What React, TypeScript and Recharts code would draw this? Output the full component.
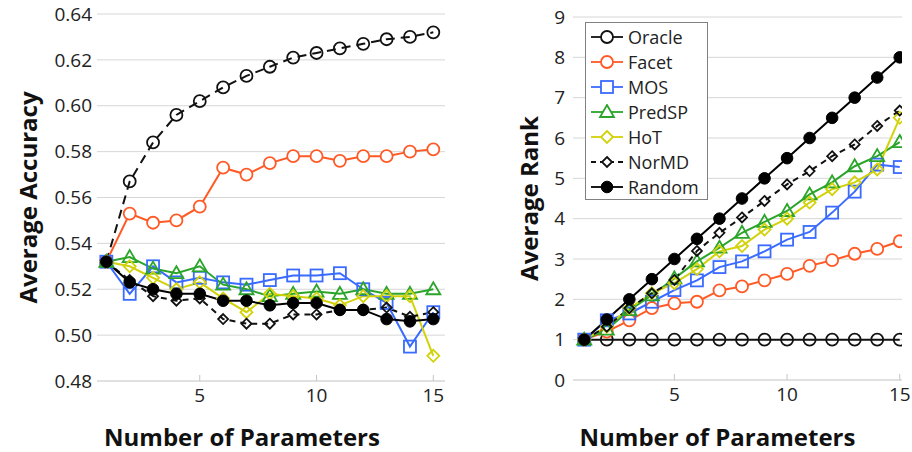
import React from 'react';
import { LineChart, Line, XAxis, YAxis, CartesianGrid, Legend, Label } from 'recharts';

// x values: number of parameters
const params = [1, 2, 3, 4, 5, 6, 7, 8, 9, 10, 11, 12, 13, 14, 15];

// left panel: average accuracy
const accOracle = [0.532, 0.567, 0.584, 0.596, 0.602, 0.608, 0.613, 0.617, 0.621, 0.623, 0.625, 0.627, 0.629, 0.630, 0.632];
const accFacet = [0.532, 0.553, 0.549, 0.550, 0.556, 0.573, 0.570, 0.575, 0.578, 0.578, 0.576, 0.578, 0.578, 0.580, 0.581];
const accMos = [0.532, 0.518, 0.530, 0.523, 0.525, 0.523, 0.522, 0.524, 0.526, 0.526, 0.527, 0.520, 0.514, 0.495, 0.510];
const accPredSP = [0.532, 0.534, 0.529, 0.527, 0.530, 0.522, 0.520, 0.517, 0.518, 0.519, 0.518, 0.520, 0.518, 0.518, 0.520];
const accHot = [0.532, 0.530, 0.525, 0.520, 0.523, 0.516, 0.510, 0.518, 0.517, 0.516, 0.513, 0.517, 0.517, 0.517, 0.491];
const accNormd = [0.532, 0.524, 0.517, 0.515, 0.516, 0.507, 0.505, 0.505, 0.509, 0.509, 0.511, 0.511, 0.512, 0.508, 0.510];
const accRandom = [0.532, 0.523, 0.520, 0.518, 0.518, 0.515, 0.515, 0.513, 0.514, 0.514, 0.511, 0.511, 0.507, 0.506, 0.507];

// right panel: average rank
const rankOracle = [1, 1, 1, 1, 1, 1, 1, 1, 1, 1, 1, 1, 1, 1, 1];
const rankFacet = [1, 1.2, 1.48, 1.78, 1.9, 1.94, 2.22, 2.32, 2.47, 2.63, 2.83, 2.97, 3.13, 3.25, 3.44];
const rankMos = [1, 1.48, 1.65, 1.94, 2.23, 2.47, 2.8, 2.94, 3.19, 3.48, 3.67, 4.15, 4.67, 5.34, 5.28];
const rankPredSP = [1, 1.25, 1.73, 2.1, 2.52, 2.94, 3.28, 3.65, 3.92, 4.19, 4.6, 4.9, 5.3, 5.55, 5.9];
const rankHot = [1, 1.32, 1.78, 2.15, 2.4, 2.75, 3.19, 3.32, 3.73, 4.0, 4.4, 4.73, 4.9, 5.22, 6.5];
const rankNormd = [1, 1.32, 1.78, 2.15, 2.48, 3.2, 3.65, 4.03, 4.44, 4.85, 5.18, 5.55, 5.84, 6.3, 6.68];
const rankRandom = [1, 1.5, 2, 2.5, 3, 3.5, 4, 4.5, 5, 5.5, 6, 6.5, 7, 7.5, 8];

const accTicks = [0.48, 0.5, 0.52, 0.54, 0.56, 0.58, 0.6, 0.62, 0.64];
const rankTicks = [0, 1, 2, 3, 4, 5, 6, 7, 8, 9];
const xTicks = [5, 10, 15];

const accRows = params.map((p, i) => ({
  p,
  oracle: accOracle[i],
  facet: accFacet[i],
  mos: accMos[i],
  predsp: accPredSP[i],
  hot: accHot[i],
  normd: accNormd[i],
  random: accRandom[i],
}));

const rankRows = params.map((p, i) => ({
  p,
  oracle: rankOracle[i],
  facet: rankFacet[i],
  mos: rankMos[i],
  predsp: rankPredSP[i],
  hot: rankHot[i],
  normd: rankNormd[i],
  random: rankRandom[i],
}));

const FONT = '"Open Sans", "Noto Sans", sans-serif';
const GRID = '#d6d6d6';
const TEXT = '#222';

type Shape = 'circle' | 'square' | 'triangle' | 'diamond' | 'dot';

const SERIES: { key: string; name: string; color: string; shape: Shape; fill: string }[] = [
  { key: 'oracle', name: 'Oracle', color: '#111', shape: 'circle', fill: 'none' },
  { key: 'facet', name: 'Facet', color: '#ff5a26', shape: 'circle', fill: '#fff' },
  { key: 'mos', name: 'MOS', color: '#3a6bff', shape: 'square', fill: 'none' },
  { key: 'predsp', name: 'PredSP', color: '#2aa52a', shape: 'triangle', fill: 'none' },
  { key: 'hot', name: 'HoT', color: '#d2d20a', shape: 'diamond', fill: 'none' },
  { key: 'normd', name: 'NorMD', color: '#111', shape: 'diamond', fill: 'none' },
  { key: 'random', name: 'Random', color: '#000', shape: 'dot', fill: '#000' },
];

function marker(shape: Shape, cx: number, cy: number, color: string, fill: string, key?: string) {
  const common = { stroke: color, strokeWidth: 1.8, fill };
  if (shape === 'circle') return <circle key={key} cx={cx} cy={cy} r={6} {...common} />;
  if (shape === 'dot') return <circle key={key} cx={cx} cy={cy} r={5.8} fill={color} stroke={color} />;
  if (shape === 'square') return <rect key={key} x={cx - 6} y={cy - 6} width={12} height={12} {...common} />;
  if (shape === 'triangle')
    return <polygon key={key} points={`${cx},${cy - 7} ${cx + 7},${cy + 5} ${cx - 7},${cy + 5}`} {...common} />;
  const d = color === '#111' ? 5 : 6;
  return <polygon key={key} points={`${cx},${cy - d} ${cx + d},${cy} ${cx},${cy + d} ${cx - d},${cy}`} {...common} />;
}

const makeDot = (s: (typeof SERIES)[number]) => (props: any) =>
  marker(s.shape, props.cx, props.cy, s.color, s.fill, `${s.key}-${props.index}`);

const renderLines = (dashedOracle: boolean) =>
  SERIES.map((s) => {
    let dash: string | undefined;
    if (s.key === 'normd') dash = '6 5';
    if (s.key === 'oracle' && dashedOracle) dash = '9 6';
    return (
      <Line
        key={s.key}
        type="linear"
        dataKey={s.key}
        name={s.name}
        stroke={s.color}
        strokeWidth={2}
        strokeDasharray={dash}
        dot={makeDot(s)}
        activeDot={false}
        isAnimationActive={false}
      />
    );
  });

const tickStyle = { fontSize: 19, fill: TEXT, fontFamily: FONT };

const xTitle = (shift: number) => (props: any) => {
  const vb = props.viewBox;
  return (
    <text
      x={vb.x + vb.width / 2 + shift}
      y={vb.y + vb.height - 6}
      textAnchor="middle"
      fontSize={24}
      fontWeight={700}
      fontFamily={FONT}
      fill="#111"
    >
      Number of Parameters
    </text>
  );
};

const yTitle = (text: string, x: number) => (props: any) => {
  const vb = props.viewBox;
  const cy = vb.y + vb.height / 2;
  return (
    <text
      x={x}
      y={cy}
      transform={`rotate(-90 ${x} ${cy})`}
      textAnchor="middle"
      dominantBaseline="central"
      fontSize={24}
      fontWeight={700}
      fontFamily={FONT}
      fill="#111"
    >
      {text}
    </text>
  );
};

function LegendBox() {
  return (
    <div
      style={{
        border: '1px solid #808080',
        background: '#fff',
        padding: '1px 8px 0 4px',
        fontFamily: FONT,
        fontSize: 18,
        color: TEXT,
      }}
    >
      {SERIES.map((s) => (
        <div key={s.key} style={{ display: 'flex', alignItems: 'center', height: 25 }}>
          <svg width={34} height={16} style={{ display: 'block' }}>
            <line
              x1={1}
              x2={33}
              y1={8}
              y2={8}
              stroke={s.color}
              strokeWidth={1.8}
              strokeDasharray={s.key === 'normd' ? '5 4' : undefined}
            />
            {marker(s.shape, 17, 8, s.color, s.fill === 'none' ? '#fff' : s.fill)}
          </svg>
          <span style={{ marginLeft: 4 }}>{s.name}</span>
        </div>
      ))}
    </div>
  );
}

export default function App() {
  return (
    <div style={{ position: 'absolute', left: 0, top: 0, width: 912, height: 452, background: '#fff' }}>
      <div style={{ position: 'absolute', left: 0, top: 0 }}>
        <LineChart width={460} height={452} data={accRows} margin={{ top: 14, right: 15, bottom: 0, left: 0 }}>
          <CartesianGrid vertical={false} stroke={GRID} />
          <XAxis
            type="number"
            dataKey="p"
            domain={[0.6, 15.5]}
            ticks={xTicks}
            allowDataOverflow
            height={71}
            tickSize={-6}
            tickMargin={14}
            tickLine={{ stroke: '#c4c4c4' }}
            axisLine={{ stroke: GRID }}
            tick={tickStyle}
          >
            <Label content={xTitle(-29)} />
          </XAxis>
          <YAxis
            type="number"
            domain={[0.48, 0.64]}
            ticks={accTicks}
            allowDataOverflow
            width={97}
            tickSize={0}
            tickMargin={5}
            tickLine={false}
            axisLine={false}
            tick={tickStyle}
            tickFormatter={(v: number) => v.toFixed(2)}
          >
            <Label content={yTitle('Average Accuracy', 27)} />
          </YAxis>
          {renderLines(true)}
        </LineChart>
      </div>
      <div style={{ position: 'absolute', left: 460, top: 0 }}>
        <LineChart width={452} height={452} data={rankRows} margin={{ top: 17, right: 10, bottom: 0, left: 0 }}>
          <CartesianGrid vertical={false} stroke={GRID} />
          <XAxis
            type="number"
            dataKey="p"
            domain={[0.5, 15.1]}
            ticks={xTicks}
            allowDataOverflow
            height={72}
            tickSize={-6}
            tickMargin={14}
            tickLine={{ stroke: '#c4c4c4' }}
            axisLine={{ stroke: GRID }}
            tick={tickStyle}
          >
            <Label content={xTitle(-20)} />
          </XAxis>
          <YAxis
            type="number"
            domain={[0, 9]}
            ticks={rankTicks}
            width={113}
            tickSize={0}
            tickMargin={8}
            tickLine={false}
            axisLine={false}
            tick={tickStyle}
          >
            <Label content={yTitle('Average Rank', 68)} />
          </YAxis>
          <Legend
            layout="vertical"
            align="center"
            verticalAlign="middle"
            content={() => <LegendBox />}
            wrapperStyle={{ position: 'absolute', left: 125, top: 22, width: 'auto' }}
          />
          {renderLines(false)}
        </LineChart>
      </div>
    </div>
  );
}
